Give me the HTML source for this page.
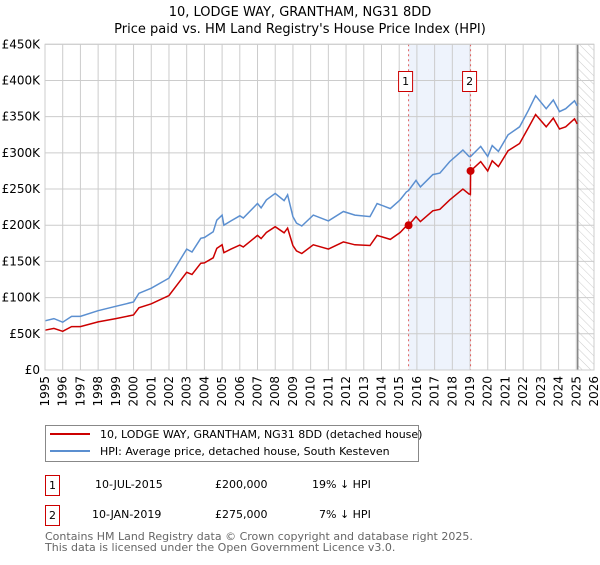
<!DOCTYPE html>
<html><head><meta charset="utf-8"><style>
body{margin:0;background:#fff;font-family:"Liberation Sans","DejaVu Sans",sans-serif}
svg text{font-family:"DejaVu Sans","Liberation Sans",sans-serif}
</style></head><body>
<svg id="chart" width="600" height="560" xmlns="http://www.w3.org/2000/svg">
<defs><pattern id="hatch" width="6" height="6" patternUnits="userSpaceOnUse" patternTransform="rotate(-45)"><line x1="0" y1="0" x2="0" y2="6" stroke="#ccc" stroke-width="1"/></pattern></defs>
<text x="300" y="16" text-anchor="middle" font-size="13">10, LODGE WAY, GRANTHAM, NG31 8DD</text>
<text x="300" y="33" text-anchor="middle" font-size="13">Price paid vs. HM Land Registry's House Price Index (HPI)</text>
<g id="grid"></g><g id="marks"></g><g id="axes"></g>
<g>
<rect x="45.5" y="425.5" width="373" height="36" fill="#fff" stroke="#888"/>
<line x1="50" y1="434" x2="90" y2="434" stroke="#cc0000" stroke-width="2"/>
<text x="100" y="438" font-size="11">10, LODGE WAY, GRANTHAM, NG31 8DD (detached house)</text>
<line x1="50" y1="451" x2="90" y2="451" stroke="#5b8fd0" stroke-width="2"/>
<text x="100" y="455" font-size="11">HPI: Average price, detached house, South Kesteven</text>
</g>
<g font-size="11">
<rect x="45.5" y="475.5" width="14" height="20" fill="#fff" stroke="#cc0000"/>
<text x="52.5" y="489" text-anchor="middle">1</text>
<text x="95" y="488">10-JUL-2015</text><text x="215" y="488">£200,000</text><text x="312" y="488">19% ↓ HPI</text>
</g>
<g font-size="11">
<rect x="45.5" y="505.5" width="14" height="20" fill="#fff" stroke="#cc0000"/>
<text x="52.5" y="519" text-anchor="middle">2</text>
<text x="92" y="518">10-JAN-2019</text><text x="215" y="518">£275,000</text><text x="319" y="518">7% ↓ HPI</text>
</g>
<text x="45" y="540" font-size="11" fill="#666">Contains HM Land Registry data © Crown copyright and database right 2025.</text>
<text x="45" y="551" font-size="11" fill="#666">This data is licensed under the Open Government Licence v3.0.</text>
</svg>
<script>
const hpiYears=[1995.0,1995.5,1996.0,1996.5,1997,1998,1999,2000,2000.3,2001,2002,2002.5,2003,2003.3,2003.8,2004,2004.5,2004.7,2005.0,2005.1,2005.5,2006,2006.2,2007,2007.2,2007.5,2008,2008.5,2008.7,2009.0,2009.2,2009.5,2010.15,2011.0,2011.85,2012.5,2013.35,2013.75,2014.5,2015.05,2015.4,2015.53,2015.95,2016.2,2016.9,2017.3,2017.85,2018.6,2018.95,2019.02,2019.03,2019.6,2020.0,2020.25,2020.6,2021.15,2021.8,2022.3,2022.7,2023.3,2023.7,2024.05,2024.4,2024.9,2025.05];
const hpiValues=[68,71,66,74,74,82,88,94,106,113,127,147,167,163,182,183,191,207,214,200,206,213,210,230,224,235,244,234,242,212,203,199,214,206,219,214,212,230,223,235,246,248,262,253,270,272,288,304,295,295,295,309,295,310,302,325,336,359,379,361,373,357,361,372,365];
const priceValues=[55,57.5,53.5,60,60,66.5,71,76,86,91.5,103,119,135,132,147.5,148,155,168,173,162,167,172.5,170,186,181.5,190,198,189.5,196,172,164.5,161,173,167,177,173,172,186,180.5,190,199,200,212,205,220,222,235,250,243,243,275,288,275,289,281,303,313,335,353,336,348,333,336,347,340];
const saleYears=[2015.53,2019.03];
const saleValues=[200,275];
const saleLabels=["1","2"];
const yTicks=[0,50,100,150,200,250,300,350,400,450];
const yTickLabels=["£0","£50K","£100K","£150K","£200K","£250K","£300K","£350K","£400K","£450K"];
const xTickYears=[1995,1996,1997,1998,1999,2000,2001,2002,2003,2004,2005,2006,2007,2008,2009,2010,2011,2012,2013,2014,2015,2016,2017,2018,2019,2020,2021,2022,2023,2024,2025,2026];
const dataEnd=2025.08;
const X0=45,X1=594,Y0=370,Y1=44.3;
const xs=y=>X0+(y-1995)/(2026-1995)*(X1-X0);
const ys=v=>Y0-v/450*(Y0-Y1);
const NS="http://www.w3.org/2000/svg";
function mk(parent,tag,attrs){const e=document.createElementNS(NS,tag);for(const k in attrs)e.setAttribute(k,attrs[k]);document.getElementById(parent).appendChild(e);return e;}
// shaded band and hatch
let e=mk('grid','rect',{x:xs(saleYears[0]),y:Y1,width:xs(saleYears[1])-xs(saleYears[0]),height:Y0-Y1,fill:'#eef3fc'});


e=mk('grid','rect',{x:xs(dataEnd),y:Y1,width:X1-xs(dataEnd),height:Y0-Y1,fill:'url(#hatch)'});


yTicks.forEach((t,i)=>{
 e=mk('grid','line',{x1:X0,x2:X1,y1:ys(t),y2:ys(t),stroke:'#ccc'});
 
 
 e=mk('axes','text',{x:X0-5,y:ys(t)+4,'text-anchor':'end','font-size':12});
 e.textContent=yTickLabels[i];
 
 
});
xTickYears.forEach(yr=>{
 e=mk('grid','line',{x1:xs(yr),x2:xs(yr),y1:Y1,y2:Y0,stroke:'#ccc'});
 
 
 e=mk('axes','text',{x:xs(yr)+4,y:Y0+6,'text-anchor':'end','font-size':12,transform:`rotate(-90 ${xs(yr)+4} ${Y0+6})`});
 e.textContent=yr;
 
 
});
e=mk('grid','line',{x1:xs(dataEnd),x2:xs(dataEnd),y1:Y1,y2:Y0,stroke:'#888','stroke-width':1.5});


saleYears.forEach((yr,i)=>{
 e=mk('grid','line',{x1:xs(yr),x2:xs(yr),y1:Y1,y2:Y0,stroke:'#e06060','stroke-dasharray':'2,3'});
 
 
});
const pts=(ys_,vs)=>ys_.map((y,i)=>xs(y).toFixed(1)+','+ys(vs[i]).toFixed(1)).join(' ');
e=mk('marks','polyline',{points:pts(hpiYears,hpiValues),fill:'none',stroke:'#5b8fd0','stroke-width':1.5});


e=mk('marks','polyline',{points:pts(hpiYears,priceValues),fill:'none',stroke:'#cc0000','stroke-width':1.5});


saleYears.forEach((yr,i)=>{
 e=mk('marks','circle',{cx:xs(yr),cy:ys(saleValues[i]),r:4,fill:'#cc0000'});
 
 
 const bx=xs(yr)-(i==0?10:8);
 e=mk('marks','rect',{x:bx,y:71.5,width:14,height:20,fill:'#fff',stroke:'#cc0000'});
 
 
 e=mk('marks','text',{x:bx+7,y:85,'text-anchor':'middle','font-size':11});
 e.textContent=saleLabels[i];
 
 
});
e=mk('axes','rect',{x:X0,y:Y1,width:X1-X0,height:Y0-Y1,fill:'none',stroke:'#ccc'});


</script>
</body></html>
